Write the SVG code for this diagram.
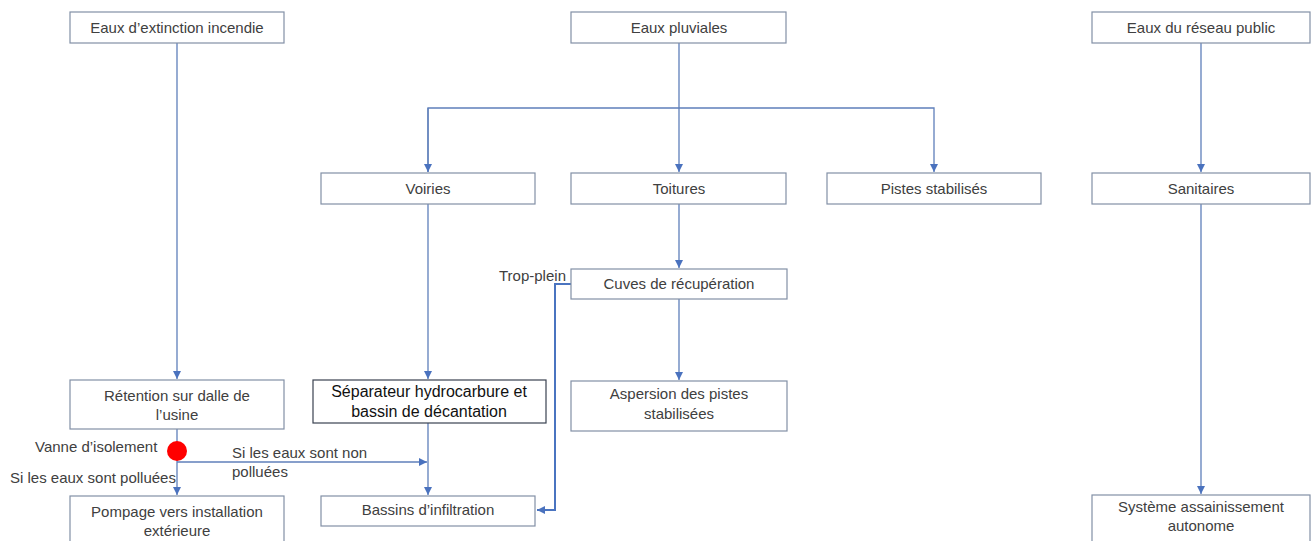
<svg xmlns="http://www.w3.org/2000/svg" width="1311" height="541" viewBox="0 0 1311 541">
<style>
.box{fill:#fff;stroke:#8290A6;stroke-width:1.2}
.box2{fill:#fff;stroke:#3a4250;stroke-width:1.2}
.t{font-family:"Liberation Sans",Arial,sans-serif;font-size:15px;fill:#404040;text-anchor:middle}
.t2{font-family:"Liberation Sans",Arial,sans-serif;font-size:16px;fill:#111;text-anchor:middle}
.lbl{font-family:"Liberation Sans",Arial,sans-serif;font-size:15px;fill:#404040}
.c{fill:none;stroke:#5F7FBA;stroke-width:1.3}
.c2{fill:none;stroke:#4A74C0;stroke-width:2}
</style>
<defs>
<marker id="ah" markerUnits="userSpaceOnUse" markerWidth="9" markerHeight="9" refX="8" refY="4" orient="auto">
<path d="M0,0 L8,4 L0,8 z" fill="#4A72BE"/>
</marker>
</defs>
<g id="connectors">
<path class="c" d="M177,43 V379" marker-end="url(#ah)"/>
<path class="c" d="M679,43 V172" marker-end="url(#ah)"/>
<path class="c" d="M428,172 V108 H934 V172" marker-end="url(#ah)"/>
<path class="c" d="M428,108 V172" marker-end="url(#ah)"/>
<path class="c" d="M1201,43 V172" marker-end="url(#ah)"/>
<path class="c" d="M428,204 V379" marker-end="url(#ah)"/>
<path class="c" d="M679,204 V268" marker-end="url(#ah)"/>
<path class="c" d="M679,299 V380" marker-end="url(#ah)"/>
<path class="c" d="M1201,204 V494" marker-end="url(#ah)"/>
<path class="c" d="M177,429 V495" marker-end="url(#ah)"/>
<path class="c" d="M177,462 H427" marker-end="url(#ah)"/>
<path class="c" d="M428,423 V495" marker-end="url(#ah)"/>
<path class="c2" d="M571,284 H555 V510 H537" marker-end="url(#ah)"/>
</g>
<g id="n-extinction"><rect class="box" x="70" y="12" width="214" height="31"/><text class="t" x="177" y="33">Eaux d’extinction incendie</text></g>
<g id="n-pluviales"><rect class="box" x="571" y="12" width="215" height="31"/><text class="t" x="679" y="33">Eaux pluviales</text></g>
<g id="n-reseau"><rect class="box" x="1092" y="12" width="218" height="31"/><text class="t" x="1201" y="33">Eaux du réseau public</text></g>
<g id="n-voiries"><rect class="box" x="321" y="173" width="214" height="31"/><text class="t" x="428" y="194">Voiries</text></g>
<g id="n-toitures"><rect class="box" x="571" y="173" width="215" height="31"/><text class="t" x="679" y="194">Toitures</text></g>
<g id="n-pistes"><rect class="box" x="827" y="173" width="214" height="31"/><text class="t" x="934" y="194">Pistes stabilisés</text></g>
<g id="n-sanitaires"><rect class="box" x="1092" y="173" width="218" height="31"/><text class="t" x="1201" y="194">Sanitaires</text></g>
<g id="n-cuves"><rect class="box" x="571" y="269" width="216" height="30"/><text class="t" x="679" y="289">Cuves de récupération</text></g>
<g id="n-aspersion"><rect class="box" x="571" y="381" width="216" height="50"/><text class="t" x="679" y="399">Aspersion des pistes</text><text class="t" x="679" y="419">stabilisées</text></g>
<g id="n-retention"><rect class="box" x="70" y="380" width="214" height="49"/><text class="t" x="177" y="401">Rétention sur dalle de</text><text class="t" x="177" y="420">l’usine</text></g>
<g id="n-separateur"><rect class="box2" x="313" y="380" width="233" height="43"/><text class="t2" x="429" y="397">Séparateur hydrocarbure et</text><text class="t2" x="429" y="417">bassin de décantation</text></g>
<g id="n-bassins"><rect class="box" x="321" y="496" width="214" height="30"/><text class="t" x="428" y="515">Bassins d’infiltration</text></g>
<g id="n-pompage"><rect class="box" x="70" y="496" width="214" height="50"/><text class="t" x="177" y="517">Pompage vers installation</text><text class="t" x="177" y="536">extérieure</text></g>
<g id="n-systeme"><rect class="box" x="1092" y="495" width="218" height="50"/><text class="t" x="1201" y="512">Système assainissement</text><text class="t" x="1201" y="531">autonome</text></g>
<g id="n-vanne"><circle cx="177" cy="451" r="10" fill="#FF0000"/><text class="lbl" x="35" y="452">Vanne d’isolement</text></g>
<g id="labels">
<text class="lbl" x="10" y="483">Si les eaux sont polluées</text>
<text class="lbl" x="232" y="458">Si les eaux sont non</text>
<text class="lbl" x="232" y="477">polluées</text>
<text class="lbl" x="499" y="281">Trop-plein</text>
</g>
</svg>
